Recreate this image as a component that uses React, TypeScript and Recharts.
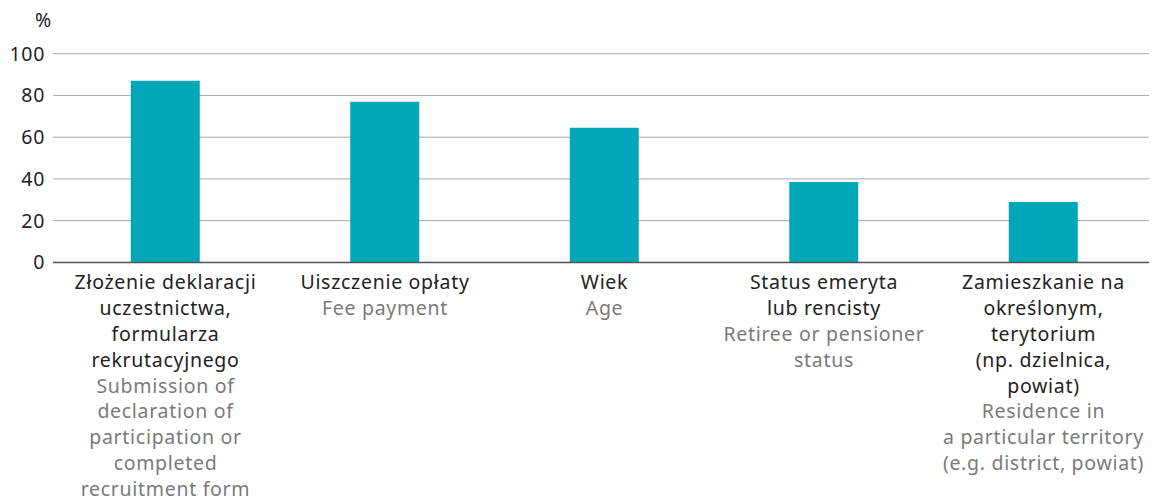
import React from 'react';
import { BarChart, Bar, XAxis, YAxis, CartesianGrid } from 'recharts';

const categories = ['Złożenie deklaracji', 'Uiszczenie opłaty', 'Wiek', 'Status emeryta', 'Zamieszkanie'];
const values = [87, 77, 64.5, 38.5, 29];
const polishLabels = [
  ['Złożenie deklaracji', 'uczestnictwa,', 'formularza', 'rekrutacyjnego'],
  ['Uiszczenie opłaty'],
  ['Wiek'],
  ['Status emeryta', 'lub rencisty'],
  ['Zamieszkanie na', 'określonym,', 'terytorium', '(np. dzielnica,', 'powiat)'],
];
const englishLabels = [
  ['Submission of', 'declaration of', 'participation or', 'completed', 'recruitment form'],
  ['Fee payment'],
  ['Age'],
  ['Retiree or pensioner', 'status'],
  ['Residence in', 'a particular territory', '(e.g. district, powiat)'],
];
const yTicks = [0, 20, 40, 60, 80, 100];

const FONT = '"Noto Sans", sans-serif';
const FS = 19.5;
const LS = 0.7;

const data = categories.map((c, i) => ({ name: c, idx: i, value: values[i] }));

const XTick = (props: any) => {
  const { x, y, payload } = props;
  const i = payload.index;
  const pl = polishLabels[i];
  const en = englishLabels[i];
  const lh = 25.8;
  return (
    <g>
      {pl.map((t, k) => (
        <text key={'p' + k} x={x} y={y + 19 + k * lh} textAnchor="middle" fill="#222" fontSize={FS} letterSpacing={LS} fontFamily={FONT}>
          {t}
        </text>
      ))}
      {en.map((t, k) => (
        <text key={'e' + k} x={x} y={y + 19 + (pl.length + k) * lh} textAnchor="middle" fill="#7a7a7a" fontSize={FS} letterSpacing={LS} fontFamily={FONT}>
          {t}
        </text>
      ))}
    </g>
  );
};

const YTick = (props: any) => {
  const { y, payload } = props;
  return (
    <text x={37} y={y + 7} textAnchor="end" fill="#222" fontSize={FS} letterSpacing={LS} fontFamily={FONT}>
      {payload.value}
    </text>
  );
};

export default function App() {
  return (
    <div style={{ position: 'relative', width: 1149, height: 489 }}>
      <div style={{ position: 'absolute', left: 27, top: 1, fontSize: FS, fontFamily: FONT, color: '#222', lineHeight: '22px' }}>%</div>
      <BarChart width={1149} height={489} data={data} margin={{ top: 45.7, right: 2, bottom: 0, left: 0 }}>
        <CartesianGrid horizontal vertical={false} stroke="#a8a8a8" strokeWidth={1} />
        <XAxis
          dataKey="name"
          interval={0}
          height={234.6}
          tick={<XTick />}
          tickLine={false}
          axisLine={{ stroke: '#555', strokeWidth: 1.5 }}
          padding={{ left: 2.75, right: 1.75 }}
        />
        <YAxis
          domain={[0, 100]}
          ticks={yTicks}
          width={45}
          axisLine={false}
          tickLine={false}
          tick={<YTick />}
        />
        <Bar dataKey="value" fill="#00A7B9" barSize={69} isAnimationActive={false} />
      </BarChart>
    </div>
  );
}
